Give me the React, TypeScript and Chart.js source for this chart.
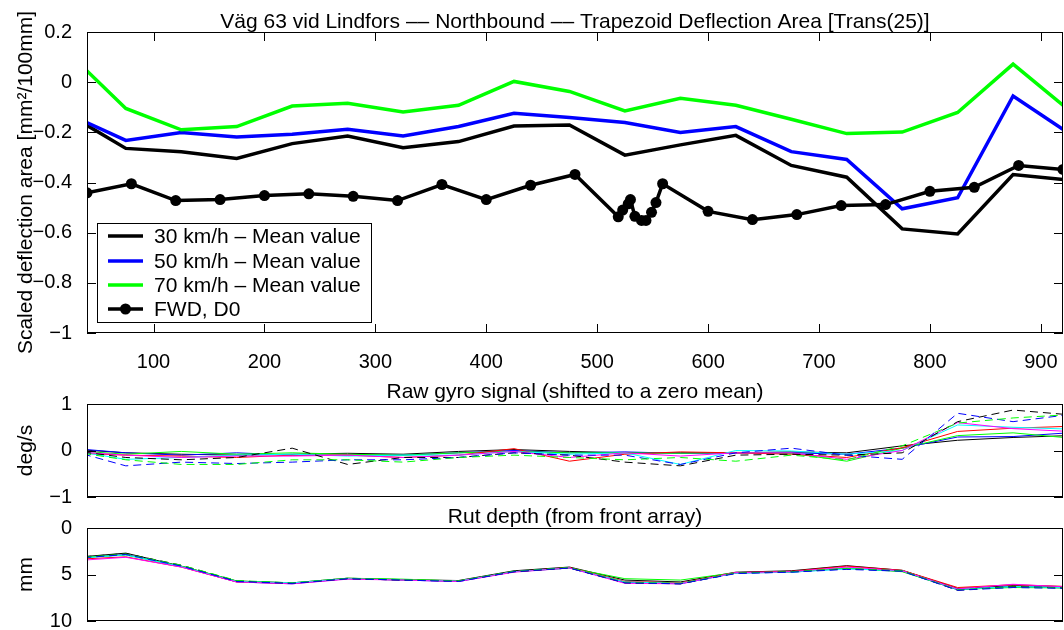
import React, { useEffect, useRef } from 'react';
import { Chart, registerables } from 'chart.js';
Chart.register(...registerables);

const FONT = '"Liberation Sans", Arial, Helvetica, sans-serif';
const FS = 20;      // tick labels
const FS_T = 21;    // titles, axis labels, legend

// ---------- data ----------
const X_MIN = 40;
const X_MAX = 920;
const xTickValues = [100, 200, 300, 400, 500, 600, 700, 800, 900];
const topYTicks = [-1, -0.8, -0.6, -0.4, -0.2, 0, 0.2];
const gyroYTicks = [-1, 0, 1];
const rutYTicks = [0, 5, 10];

const segX = [25, 75, 125, 175, 225, 275, 325, 375, 425, 475, 525, 575, 625, 675, 725, 775, 825, 875, 925];
const mean30 = [-0.133, -0.264, -0.277, -0.304, -0.245, -0.215, -0.261, -0.237, -0.175, -0.171, -0.291, -0.25, -0.212, -0.332, -0.379, -0.585, -0.605, -0.368, -0.39];
const mean50 = [-0.131, -0.232, -0.201, -0.219, -0.208, -0.188, -0.215, -0.177, -0.124, -0.141, -0.161, -0.201, -0.177, -0.277, -0.308, -0.505, -0.461, -0.055, -0.203];
const mean70 = [0.109, -0.105, -0.19, -0.177, -0.095, -0.084, -0.119, -0.092, 0.003, -0.037, -0.115, -0.064, -0.092, -0.148, -0.205, -0.199, -0.121, 0.072, -0.11];

const fwdX = [40, 80, 120, 160, 200, 240, 280, 320, 360, 400, 440, 480, 519, 523, 528, 530, 534, 540, 544, 549, 553, 559, 600, 640, 680, 720, 760, 800, 840, 880, 920];
const fwdY = [-0.441, -0.405, -0.472, -0.468, -0.452, -0.445, -0.455, -0.472, -0.408, -0.468, -0.411, -0.368, -0.537, -0.51, -0.485, -0.468, -0.535, -0.551, -0.551, -0.519, -0.48, -0.405, -0.515, -0.548, -0.528, -0.492, -0.488, -0.435, -0.419, -0.332, -0.348];

const gyroBlack = [0.03, -0.05, -0.08, -0.1, -0.08, -0.06, -0.08, -0.02, 0.02, -0.02, -0.05, -0.05, -0.05, -0.03, -0.05, 0.1, 0.22, 0.28, 0.32];
const gyroBlue = [0.05, -0.05, -0.1, -0.05, -0.1, -0.1, -0.1, -0.05, 0.0, -0.05, -0.03, -0.06, -0.05, -0.05, -0.08, 0.05, 0.29, 0.3, 0.38];
const gyroGreen = [0.0, -0.08, -0.02, -0.08, -0.05, -0.08, -0.1, -0.05, -0.02, -0.05, -0.05, -0.06, -0.04, -0.06, -0.23, 0.05, 0.32, 0.38, 0.27];
const gyroRed = [-0.05, -0.1, -0.12, -0.15, -0.1, -0.1, -0.15, -0.1, 0.04, -0.23, -0.08, -0.03, -0.05, -0.08, -0.15, 0.06, 0.41, 0.48, 0.52];
const gyroCyan = [0.0, -0.19, -0.15, -0.1, -0.08, -0.12, -0.1, -0.1, -0.02, -0.08, -0.05, -0.3, 0.0, -0.01, -0.08, 0.0, 0.55, 0.5, 0.46];
const gyroMagenta = [-0.02, -0.1, -0.15, -0.12, -0.12, -0.1, -0.15, -0.1, -0.02, -0.15, -0.05, -0.12, -0.05, -0.05, -0.19, 0.0, 0.6, 0.47, 0.41];
const gyroBlackD = [0.0, -0.15, -0.2, -0.15, 0.05, -0.3, -0.15, -0.15, -0.05, -0.1, -0.25, -0.33, -0.1, -0.08, -0.1, -0.05, 0.62, 0.87, 0.77];
const gyroBlueD = [0.0, -0.33, -0.25, -0.28, -0.25, -0.2, -0.2, -0.15, -0.05, -0.1, -0.1, -0.3, -0.05, 0.05, -0.1, -0.19, 0.8, 0.62, 0.77];
const gyroGreenD = [-0.02, -0.2, -0.3, -0.3, -0.2, -0.2, -0.25, -0.15, -0.1, -0.15, -0.2, -0.15, -0.23, -0.1, -0.2, 0.1, 0.59, 0.7, 0.77];

const rutBlack = [3.2, 2.7, 4.1, 5.7, 5.9, 5.4, 5.55, 5.65, 4.6, 4.2, 5.6, 5.8, 4.75, 4.6, 4.05, 4.55, 6.5, 6.2, 6.3];
const rutBlue = [3.3, 2.85, 4.15, 5.8, 6.0, 5.45, 5.6, 5.75, 4.7, 4.3, 5.85, 6.0, 4.85, 4.75, 4.35, 4.65, 6.65, 6.3, 6.45];
const rutGreen = [3.2, 2.9, 4.1, 5.7, 5.9, 5.4, 5.5, 5.7, 4.7, 4.3, 5.45, 5.6, 4.8, 4.75, 4.3, 4.7, 6.6, 6.4, 6.45];
const rutRed = [3.4, 3.1, 4.2, 5.8, 5.95, 5.45, 5.6, 5.7, 4.7, 4.25, 5.75, 5.9, 4.8, 4.65, 4.1, 4.55, 6.4, 6.1, 6.3];
const rutCyan = [3.3, 2.9, 4.15, 5.75, 5.9, 5.45, 5.6, 5.7, 4.7, 4.3, 5.8, 5.95, 4.85, 4.75, 4.4, 4.6, 6.6, 6.3, 6.4];
const rutMagenta = [3.55, 3.15, 4.2, 5.8, 6.0, 5.5, 5.6, 5.75, 4.75, 4.3, 5.95, 6.0, 4.8, 4.7, 4.2, 4.6, 6.55, 6.05, 6.35];
const rutBlackD = [3.2, 2.75, 4.0, 5.7, 5.95, 5.45, 5.6, 5.7, 4.7, 4.3, 5.9, 6.0, 4.85, 4.7, 4.4, 4.6, 6.7, 6.3, 6.45];
const rutGreenD = [3.25, 2.8, 4.0, 5.65, 5.9, 5.4, 5.55, 5.7, 4.65, 4.25, 5.85, 5.95, 4.85, 4.7, 4.35, 4.6, 6.65, 6.35, 6.45];
const rutBlueD = [3.3, 2.85, 4.1, 5.75, 5.95, 5.45, 5.6, 5.75, 4.7, 4.3, 5.9, 6.0, 4.9, 4.75, 4.45, 4.65, 6.7, 6.4, 6.5];

const legendLabels = ['30 km/h \u2013 Mean value', '50 km/h \u2013 Mean value', '70 km/h \u2013 Mean value', 'FWD, D0'];
const topTitle = 'V\u00e4g 63 vid Lindfors \u2013\u2013 Northbound \u2013\u2013 Trapezoid Deflection Area [Trans(25)]';
const gyroTitle = 'Raw gyro signal (shifted to a zero mean)';
const rutTitle = 'Rut depth (from front array)';

// ---------- helpers ----------
const pts = (xs: number[], ys: number[]) => xs.map((x, i) => ({ x, y: ys[i] }));
const fmt = (v: number) => {
  const r = Math.round(v * 10) / 10;
  const s = String(Math.abs(r));
  return r < 0 ? '\u2212' + s : s;
};

const framePlugin = {
  id: 'frameTicks',
  afterDatasetsDraw(chart: any, _a: any, opts: any) {
    const { ctx, chartArea } = chart;
    const { left, right, top, bottom } = chartArea;
    const xs = chart.scales.x;
    const ys = chart.scales.y;
    const len = 9;
    ctx.save();
    ctx.strokeStyle = '#000';
    ctx.lineWidth = 1;
    ctx.beginPath();
    (opts.xTicks || []).forEach((v: number) => {
      const p = Math.round(xs.getPixelForValue(v)) + 0.5;
      ctx.moveTo(p, bottom);
      ctx.lineTo(p, bottom - len);
      ctx.moveTo(p, top);
      ctx.lineTo(p, top + len);
    });
    (opts.yTicks || []).forEach((v: number) => {
      const p = Math.round(ys.getPixelForValue(v)) + 0.5;
      ctx.moveTo(left, p);
      ctx.lineTo(left + len, p);
      ctx.moveTo(right, p);
      ctx.lineTo(right - len, p);
    });
    ctx.stroke();
    ctx.strokeRect(left + 0.5, top + 0.5, right - left - 1, bottom - top - 1);
    ctx.restore();
  },
};

const textPlugin = {
  id: 'texts',
  afterDraw(chart: any, _a: any, opts: any) {
    const { ctx, chartArea } = chart;
    ctx.save();
    ctx.fillStyle = '#000';
    ctx.font = `${FS_T}px ${FONT}`;
    if (opts.title) {
      ctx.textAlign = 'center';
      ctx.textBaseline = 'alphabetic';
      ctx.fillText(opts.title, (chartArea.left + chartArea.right) / 2, opts.titleY);
    }
    if (opts.ylabel) {
      ctx.translate(opts.ylabelX, (chartArea.top + chartArea.bottom) / 2);
      ctx.rotate(-Math.PI / 2);
      ctx.textAlign = 'center';
      ctx.textBaseline = 'alphabetic';
      ctx.fillText(opts.ylabel, 0, 0);
    }
    ctx.restore();
  },
};

const legendPlugin = {
  id: 'boxLegend',
  afterDraw(chart: any, _a: any, opts: any) {
    if (!opts.show) return;
    const { ctx } = chart;
    const bx = 97, by = 223, bw = 274, bh = 99;
    ctx.save();
    ctx.fillStyle = '#fff';
    ctx.fillRect(bx, by, bw, bh);
    ctx.strokeStyle = '#000';
    ctx.lineWidth = 1;
    ctx.strokeRect(bx + 0.5, by + 0.5, bw, bh);
    const rows = [236, 261, 285, 309];
    const colors = ['#000000', '#0000ff', '#00ff00', '#000000'];
    ctx.font = `${FS_T}px ${FONT}`;
    ctx.textBaseline = 'middle';
    ctx.textAlign = 'left';
    rows.forEach((y, i) => {
      ctx.strokeStyle = colors[i];
      ctx.lineWidth = 3.5;
      ctx.beginPath();
      ctx.moveTo(108, y);
      ctx.lineTo(143, y);
      ctx.stroke();
      if (i === 3) {
        ctx.fillStyle = '#000';
        ctx.beginPath();
        ctx.arc(125.5, y, 5.5, 0, Math.PI * 2);
        ctx.fill();
      }
      ctx.fillStyle = '#000';
      ctx.fillText(legendLabels[i], 154, y + 1);
    });
    ctx.restore();
  },
};

function baseOptions(opts: {
  H: number; top: number; bottom: number; yMin: number; yMax: number; yStep: number;
  reverse?: boolean; showX: boolean; yTicks: number[]; xTicks: number[];
  title: string; titleY: number; ylabel: string; legend?: boolean;
}) {
  return {
    responsive: false,
    animation: false,
    events: [],
    layout: { autoPadding: false, padding: { top: opts.top, right: 1, left: 0, bottom: 0 } },
    plugins: {
      legend: { display: false },
      tooltip: { enabled: false },
      title: { display: false },
      frameTicks: { xTicks: opts.xTicks, yTicks: opts.yTicks },
      texts: { title: opts.title, titleY: opts.titleY, ylabel: opts.ylabel, ylabelX: 32 },
      boxLegend: { show: !!opts.legend },
    },
    scales: {
      x: {
        type: 'linear',
        min: X_MIN,
        max: X_MAX,
        grid: { display: false },
        border: { display: false },
        ticks: {
          display: opts.showX,
          includeBounds: false,
          stepSize: 100,
          autoSkip: false,
          maxRotation: 0,
          padding: 9,
          color: '#000',
          font: { family: FONT, size: FS },
        },
        afterFit: (s: any) => {
          s.height = opts.H - opts.bottom;
          s.paddingLeft = 0;
          s.paddingRight = 0;
        },
      },
      y: {
        type: 'linear',
        min: opts.yMin,
        max: opts.yMax,
        reverse: !!opts.reverse,
        grid: { display: false },
        border: { display: false },
        ticks: {
          stepSize: opts.yStep,
          includeBounds: false,
          padding: 7,
          color: '#000',
          font: { family: FONT, size: FS },
          callback: (v: number) => fmt(v),
        },
        afterFit: (s: any) => {
          s.width = 87;
          s.paddingTop = 0;
          s.paddingBottom = 0;
        },
      },
    },
  };
}

const thin = (data: number[], color: string, dashed = false) => ({
  data: pts(segX, data),
  borderColor: color,
  borderWidth: 1,
  borderDash: dashed ? [8, 5] : [],
  pointRadius: 0,
  tension: 0,
  fill: false,
});

export default function App() {
  const r1 = useRef<HTMLCanvasElement>(null);
  const r2 = useRef<HTMLCanvasElement>(null);
  const r3 = useRef<HTMLCanvasElement>(null);

  useEffect(() => {
    const c1 = new Chart(r1.current as HTMLCanvasElement, {
      type: 'line',
      data: {
        datasets: [
          {
            data: pts(fwdX, fwdY), borderColor: '#000', backgroundColor: '#000', borderWidth: 3.5,
            pointRadius: 5.5, pointBackgroundColor: '#000', pointBorderWidth: 0, tension: 0,
          },
          { data: pts(segX, mean70), borderColor: '#00ff00', borderWidth: 3.5, pointRadius: 0, tension: 0 },
          { data: pts(segX, mean50), borderColor: '#0000ff', borderWidth: 3.5, pointRadius: 0, tension: 0 },
          { data: pts(segX, mean30), borderColor: '#000000', borderWidth: 3.5, pointRadius: 0, tension: 0 },
        ],
      } as any,
      options: baseOptions({
        H: 370, top: 32, bottom: 333, yMin: -1, yMax: 0.2, yStep: 0.2, showX: true,
        yTicks: topYTicks, xTicks: xTickValues, title: topTitle, titleY: 28,
        ylabel: 'Scaled deflection area [mm\u00b2/100mm]', legend: true,
      }) as any,
      plugins: [framePlugin, textPlugin, legendPlugin],
    });

    const c2 = new Chart(r2.current as HTMLCanvasElement, {
      type: 'line',
      data: {
        datasets: [
          thin(gyroGreenD, '#00ff00', true),
          thin(gyroBlueD, '#0000ff', true),
          thin(gyroBlackD, '#000000', true),
          thin(gyroMagenta, '#ff00ff'),
          thin(gyroCyan, '#00ffff'),
          thin(gyroRed, '#ff0000'),
          thin(gyroGreen, '#00ff00'),
          thin(gyroBlue, '#0000ff'),
          thin(gyroBlack, '#000000'),
        ],
      } as any,
      options: baseOptions({
        H: 140, top: 34, bottom: 127, yMin: -1, yMax: 1, yStep: 1, showX: false,
        yTicks: gyroYTicks, xTicks: [], title: gyroTitle, titleY: 28, ylabel: 'deg/s',
      }) as any,
      plugins: [framePlugin, textPlugin],
    });

    const c3 = new Chart(r3.current as HTMLCanvasElement, {
      type: 'line',
      data: {
        datasets: [
          thin(rutBlueD, '#0000ff', true),
          thin(rutGreenD, '#00ff00', true),
          thin(rutBlackD, '#000000', true),
          thin(rutMagenta, '#ff00ff'),
          thin(rutCyan, '#00ffff'),
          thin(rutRed, '#ff0000'),
          thin(rutGreen, '#00ff00'),
          thin(rutBlue, '#0000ff'),
          thin(rutBlack, '#000000'),
        ],
      } as any,
      options: baseOptions({
        H: 130, top: 28, bottom: 121, yMin: 0, yMax: 10, yStep: 5, reverse: true, showX: false,
        yTicks: rutYTicks, xTicks: [], title: rutTitle, titleY: 23, ylabel: 'mm',
      }) as any,
      plugins: [framePlugin, textPlugin],
    });

    return () => {
      c1.destroy();
      c2.destroy();
      c3.destroy();
    };
  }, []);

  return (
    <div style={{ position: 'absolute', left: 0, top: 0, width: 1064, height: 630, background: '#fff' }}>
      <canvas ref={r1} width={1064} height={370} style={{ position: 'absolute', left: 0, top: 0 }} />
      <canvas ref={r2} width={1064} height={140} style={{ position: 'absolute', left: 0, top: 370 }} />
      <canvas ref={r3} width={1064} height={130} style={{ position: 'absolute', left: 0, top: 500 }} />
    </div>
  );
}
